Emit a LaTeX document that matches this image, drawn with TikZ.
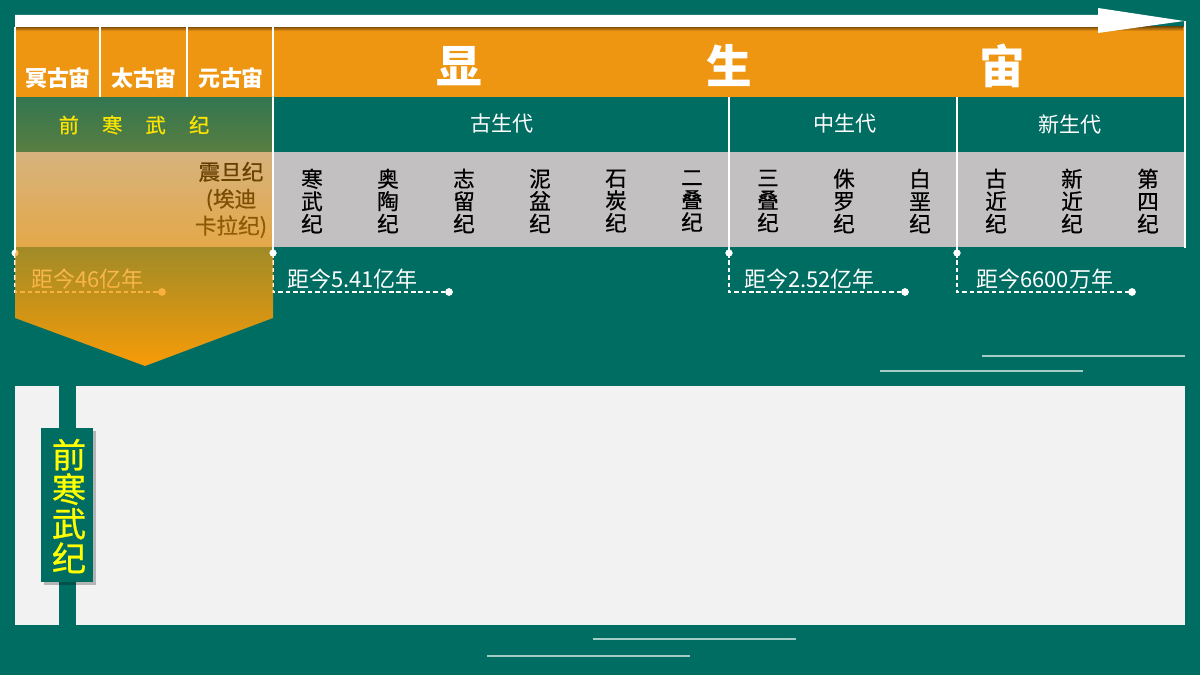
\documentclass[tikz,border=0pt]{standalone}
\usepackage{fontspec}
\setmainfont{Noto Sans CJK SC}
\newfontfamily\medfont[FakeBold=0.7]{Noto Sans CJK SC}
\usetikzlibrary{positioning,fadings,calc}
\definecolor{bgteal}{RGB}{0,109,99}
\definecolor{bandorange}{RGB}{238,149,17}
\definecolor{rowgray}{RGB}{195,192,193}
\definecolor{panelgray}{RGB}{242,242,242}
\definecolor{tipyellow}{RGB}{255,255,0}
\definecolor{deeporange}{RGB}{248,156,8}
\definecolor{thinline}{RGB}{165,205,200}
\tikzfading[name=fadedown, top color=transparent!80, bottom color=transparent!0]

\begin{document}
\begin{tikzpicture}[x=0.02cm, y=-0.02cm,
     eon/.style={text=white, font=\fontsize{12.5}{13}\selectfont\bfseries, inner sep=0pt},
     era/.style={text=white, font=\fontsize{12}{13}\selectfont, inner sep=0pt},
     period/.style={text=black, font=\fontsize{12.3}{12.8}\selectfont\medfont, align=center, inner sep=0pt},
     ago/.style={text=white, font=\fontsize{12.5}{13}\selectfont, anchor=west, inner sep=0pt},
     sepline/.style={white, line width=1.6pt},
     agoline/.style={white, line width=0.8pt, dash pattern=on 2.6pt off 1.6pt}]
               \fill[bgteal] (0,0) rectangle (1200,675);
               \useasboundingbox (0,0) rectangle (1200,675);
               \fill[bandorange] (15,27) rectangle (1185,97);
               \shade[top color=bandorange!55!black, bottom color=bandorange] (15,27) rectangle (1183,31);
               \fill[rowgray] (15,152) rectangle (1185,247);
               \fill[white] (15,15) -- (1098,15) -- (1098,8) -- (1184,21) -- (1098,33) -- (1098,27) -- (15,27) -- cycle;
               \node[eon] (hadean) at (58,78) {冥古宙};
               \node[eon] (archean) at (144,78) {太古宙};
               \node[eon] (proterozoic) at (231,78) {元古宙};
               \node[text=white, font=\fontsize{26}{26}\selectfont\bfseries, inner sep=0pt] (xian) at (459,66) {显};
               \node[text=white, font=\fontsize{26}{26}\selectfont\bfseries, inner sep=0pt] (sheng) at (729,66) {生};
               \node[text=white, font=\fontsize{26}{26}\selectfont\bfseries, inner sep=0pt] (zhou) at (1002,66) {宙};
               \node[text=tipyellow, font=\fontsize{11.5}{12}\selectfont\medfont, inner sep=0pt] (precam) at (134,125) {前\hspace{1.15em}寒\hspace{1.15em}武\hspace{1.15em}纪};
               \node[era] (paleo) at (502,124) {古生代};
               \node[era] (meso) at (845,124) {中生代};
               \node[era] (ceno) at (1070,124) {新生代};
               \node[period, font=\fontsize{12.3}{15.3}\selectfont\medfont] (sinian) at (231,200) {震旦纪\\(埃迪\\卡拉纪)};
               \foreach \name [count=\i from 0] in {寒\\武\\纪, 奥\\陶\\纪, 志\\留\\纪, 泥\\盆\\纪, 石\\炭\\纪, 二\\叠\\纪, 三\\叠\\纪, 侏\\罗\\纪, 白\\垩\\纪, 古\\近\\纪, 新\\近\\纪, 第\\四\\纪}
                    \node[period] (p\i) at ({312+76*\i},201) {\name};
               \coordinate (t0) at (15,253);
               \coordinate (t1) at (273,253);
               \coordinate (t2) at (729,253);
               \coordinate (t3) at (957,253);
               \coordinate (e0) at (162,292);
               \coordinate (e1) at (449,292);
               \coordinate (e2) at (905,292);
               \coordinate (e3) at (1132,292);
               \node[ago] (ago0) at (31,279) {距今46亿年};
               \node[ago] (ago1) at (287,279) {距今5.41亿年};
               \node[ago] (ago2) at (744,279) {距今2.52亿年};
               \node[ago] (ago3) at (976,279) {距今6600万年};
               \foreach \i in {0,...,3}{
                    \draw[agoline] (t\i) |- (e\i);
                    \fill[white] (t\i) circle[radius=2pt];
                    \fill[white] (e\i) circle[radius=2.2pt];
               }
               \fill[deeporange, path fading=fadedown] (15,97) -- (273,97) -- (273,318) -- (145,366) -- (15,318) -- cycle;
               \draw[sepline] (15,27) -- (t0);
               \draw[sepline] (273,27) -- (t1);
               \draw[sepline] (100,27) -- (100,97);
               \draw[sepline] (187,27) -- (187,97);
               \draw[sepline] (729,97) -- (t2);
               \draw[sepline] (957,97) -- (t3);
               \draw[sepline] (1185,21) -- (1185,248);
               \fill[white] (t1) circle[radius=2pt];
               \fill[white] (t2) circle[radius=2pt];
               \fill[white] (t3) circle[radius=2pt];
               \draw[thinline, line width=1.1pt] (982,356) -- (1185,356);
               \draw[thinline, line width=1.1pt] (880,371) -- (1083,371);
               \draw[thinline, line width=1.1pt] (593,639) -- (796,639);
               \draw[thinline, line width=1.1pt] (487,656) -- (690,656);
               \fill[panelgray] (15,386) rectangle (1185,625);
               \fill[bgteal] (59,386) rectangle (76,625);
               \fill[black, opacity=0.25] (44,431) rectangle (96,585);
               \fill[bgteal] (41,428) rectangle (93,582);
               \node[text=tipyellow, font=\fontsize{19.5}{19.6}\selectfont\medfont, align=center, inner sep=0pt] (sidelabel) at (69,506) {前\\寒\\武\\纪};
          \end{tikzpicture}
\end{document}
